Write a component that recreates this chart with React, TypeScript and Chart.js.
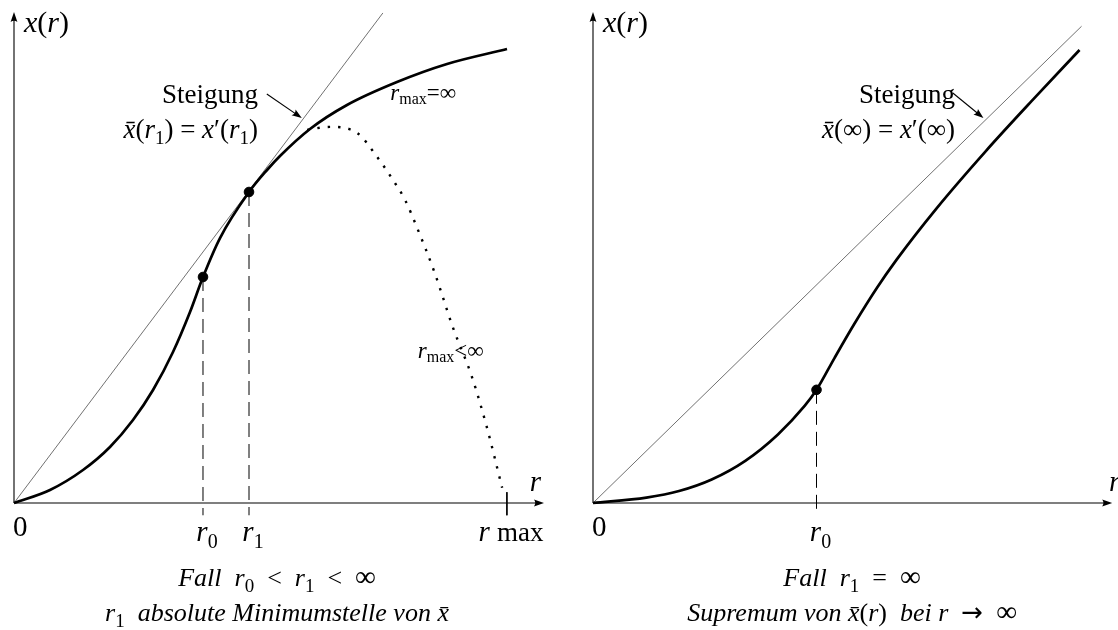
import React, { useEffect, useRef } from "react";
import { Chart, registerables } from "chart.js";

Chart.register(...registerables);

// ---------- Left panel: Fall r0 < r1 < ∞ ----------
const leftCurveR = [0, 0.679, 1.302, 1.811, 2.245, 2.623, 3.0, 3.321, 3.566, 3.887, 4.434, 4.774, 5.019, 5.585, 6.283, 7.226, 8.17, 9.302];
const leftCurveX = [0, 0.265, 0.672, 1.141, 1.69, 2.301, 3.075, 3.89, 4.603, 5.397, 6.334, 6.782, 7.067, 7.617, 8.106, 8.574, 8.941, 9.246];
const leftDottedR = [5.53, 5.96, 6.47, 6.85, 7.15, 7.38, 7.6, 7.94, 8.28, 8.64, 8.92, 9.21];
const leftDottedX = [7.6, 7.66, 7.54, 7.05, 6.58, 6.17, 5.62, 4.68, 3.58, 2.57, 1.55, 0.31];
const leftTangentR = [0, 6.96];
const leftTangentX = [0, 9.98];
const leftMarkedR = [3.566, 4.434]; // r0, r1
const leftMarkedX = [4.603, 6.334];
const leftRmax = 9.3;

// ---------- Right panel: Fall r1 = ∞ ----------
const rightCurveR = [0, 1.029, 1.657, 2.286, 2.933, 3.562, 4.076, 4.305, 4.648, 5.029, 5.467, 5.848, 6.61, 7.562, 8.514, 9.371];
const rightCurveX = [0, 0.11, 0.244, 0.479, 0.859, 1.397, 1.976, 2.305, 2.947, 3.64, 4.379, 4.957, 5.992, 7.163, 8.261, 9.226];
const rightTangentR = [0, 9.41];
const rightTangentX = [0, 9.71];
const rightMarkedR = [4.305]; // r0
const rightMarkedX = [2.305];

// axis ranges
const AXIS_MIN = 0;
const AXIS_MAX = 10;

const SERIF = '"Liberation Serif", "DejaVu Serif", serif';
const I = (s: number) => `italic ${s}px ${SERIF}`;
const R = (s: number) => `${s}px ${SERIF}`;
const SYM = (s: number) => `${s}px "DejaVu Sans", ${SERIF}`;

type Run = { t: string; f: string; dy?: number };

function drawRuns(ctx: CanvasRenderingContext2D, runs: Run[], x: number, y: number, align: "left" | "center" | "right") {
  let w = 0;
  for (const r of runs) {
    ctx.font = r.f;
    w += ctx.measureText(r.t).width;
  }
  let cx = align === "left" ? x : align === "center" ? x - w / 2 : x - w;
  ctx.textBaseline = "alphabetic";
  ctx.textAlign = "left";
  for (const r of runs) {
    ctx.font = r.f;
    ctx.fillText(r.t, cx, y + (r.dy || 0));
    cx += ctx.measureText(r.t).width;
  }
}

function arrowHead(ctx: CanvasRenderingContext2D, tx: number, ty: number, ang: number, len = 10, half = 3.4) {
  ctx.save();
  ctx.translate(tx, ty);
  ctx.rotate(ang);
  ctx.beginPath();
  ctx.moveTo(0, 0);
  ctx.lineTo(-len, -half);
  ctx.quadraticCurveTo(-len * 0.75, 0, -len, half);
  ctx.closePath();
  ctx.fill();
  ctx.restore();
}

const sub = (t: string, s = 19, dy = 6): Run => ({ t, f: R(s), dy });
const xbar = (s: number): Run => ({ t: "x\u0304", f: I(s) });

type PanelCfg = {
  padding: { left: number; right: number; top: number; bottom: number };
  datasets: any[];
  tickLabels: { r: number; runs: Run[] }[];
  rLabelDX: number;
  steigungRight: number;
  formula: Run[];
  pointer: { from: [number, number]; to: [number, number] };
  titleCenter: number;
  title1: Run[];
  title2: Run[];
  extra?: (ctx: CanvasRenderingContext2D, px: (v: number) => number, py: (v: number) => number) => void;
};

const pts = (rs: number[], xs: number[]) => rs.map((r, i) => ({ x: r, y: xs[i] }));

function baseDatasets(curveR: number[], curveX: number[], tanR: number[], tanX: number[], markR: number[], markX: number[]) {
  return [
    {
      data: pts(markR, markX),
      showLine: false,
      pointRadius: 4.8,
      pointBackgroundColor: "#000",
      pointBorderColor: "#000",
      pointBorderWidth: 1,
      clip: false,
    },
    {
      data: pts(curveR, curveX),
      showLine: true,
      borderColor: "#000",
      borderWidth: 2.7,
      pointRadius: 0,
      cubicInterpolationMode: "monotone",
      clip: false,
    },
    {
      data: pts(tanR, tanX),
      showLine: true,
      borderColor: "#333",
      borderWidth: 0.7,
      pointRadius: 0,
      clip: false,
    },
    ...markR.map((r, i) => ({
      data: [
        { x: r, y: markX[i] },
        { x: r, y: -0.25 },
      ],
      showLine: true,
      borderColor: "#000",
      borderWidth: 1,
      borderDash: [14, 7],
      pointRadius: 0,
      clip: false,
    })),
  ];
}

const T = 26; // caption font size
const F = 27; // annotation font size

const leftCfg: PanelCfg = {
  padding: { left: 14, right: 15, top: 12, bottom: 127 },
  datasets: [
    ...baseDatasets(leftCurveR, leftCurveX, leftTangentR, leftTangentX, leftMarkedR, leftMarkedX),
    {
      data: pts(leftDottedR, leftDottedX),
      showLine: true,
      borderColor: "#000",
      borderWidth: 2.4,
      borderDash: [2.4, 8],
      pointRadius: 0,
      cubicInterpolationMode: "monotone",
      clip: false,
    },
    {
      data: [
        { x: leftRmax, y: 0.22 },
        { x: leftRmax, y: -0.25 },
      ],
      showLine: true,
      borderColor: "#000",
      borderWidth: 1,
      pointRadius: 0,
      clip: false,
    },
  ],
  tickLabels: [
    { r: leftMarkedR[0], runs: [{ t: "r", f: I(29) }, sub("0", 20, 7)] },
    { r: leftMarkedR[1], runs: [{ t: "r", f: I(29) }, sub("1", 20, 7)] },
    { r: leftRmax, runs: [{ t: "r ", f: I(29) }, { t: "max", f: R(27) }] },
  ],
  rLabelDX: -3,
  steigungRight: 258,
  formula: [
    xbar(F),
    { t: "(", f: R(F) },
    { t: "r", f: I(F) },
    sub("1"),
    { t: ") = ", f: R(F) },
    { t: "x", f: I(F) },
    { t: "\u2032(", f: R(F) },
    { t: "r", f: I(F) },
    sub("1"),
    { t: ")", f: R(F) },
  ],
  pointer: { from: [4.77, 8.33], to: [5.43, 7.84] },
  titleCenter: 277,
  title1: [
    { t: "Fall  ", f: I(T) },
    { t: "r", f: I(T) },
    sub("0"),
    { t: "\u2002<\u2002", f: R(T) },
    { t: "r", f: I(T) },
    sub("1"),
    { t: "\u2002<\u2002", f: R(T) },
    { t: "\u221E", f: R(29) },
  ],
  title2: [
    { t: "r", f: I(T) },
    sub("1"),
    { t: "  absolute Minimumstelle von ", f: I(T) },
    xbar(T),
  ],
  extra: (ctx, px, py) => {
    drawRuns(ctx, [{ t: "r", f: I(23) }, { t: "max", f: R(16), dy: 4 }, { t: "=\u221E", f: R(23) }], px(7.1), py(8.2), "left");
    drawRuns(ctx, [{ t: "r", f: I(23) }, { t: "max", f: R(16), dy: 4 }, { t: "<\u221E", f: R(23) }], px(7.62), py(2.95), "left");
  },
};

const rightCfg: PanelCfg = {
  padding: { left: 34, right: 0, top: 12, bottom: 127 },
  datasets: baseDatasets(rightCurveR, rightCurveX, rightTangentR, rightTangentX, rightMarkedR, rightMarkedX),
  tickLabels: [{ r: rightMarkedR[0], runs: [{ t: "r", f: I(29) }, sub("0", 20, 7)] }],
  rLabelDX: 8,
  steigungRight: 396,
  formula: [
    xbar(F),
    { t: "(\u221E) = ", f: R(F) },
    { t: "x", f: I(F) },
    { t: "\u2032(\u221E)", f: R(F) },
  ],
  pointer: { from: [6.93, 8.35], to: [7.52, 7.84] },
  titleCenter: 293,
  title1: [
    { t: "Fall  ", f: I(T) },
    { t: "r", f: I(T) },
    sub("1"),
    { t: "\u2002=\u2002", f: R(T) },
    { t: "\u221E", f: R(29) },
  ],
  title2: [
    { t: "Supremum von ", f: I(T) },
    xbar(T),
    { t: "(", f: R(T) },
    { t: "r", f: I(T) },
    { t: ")  ", f: R(T) },
    { t: "bei ", f: I(T) },
    { t: "r", f: I(T) },
    { t: "\u2002\u2192\u2002", f: SYM(T) },
    { t: "\u221E", f: R(29) },
  ],
};

function makeConfig(cfg: PanelCfg): any {
  const decor = {
    id: "decor",
    beforeDatasetsDraw(chart: any) {
      const { ctx, chartArea, scales } = chart;
      const ox = scales.x.getPixelForValue(0);
      const oy = scales.y.getPixelForValue(0);
      ctx.save();
      ctx.strokeStyle = "#000";
      ctx.fillStyle = "#000";
      ctx.lineWidth = 1.1;
      ctx.beginPath();
      ctx.moveTo(ox, oy);
      ctx.lineTo(chartArea.right - 5, oy);
      ctx.stroke();
      ctx.beginPath();
      ctx.moveTo(ox, oy);
      ctx.lineTo(ox, chartArea.top + 5);
      ctx.stroke();
      arrowHead(ctx, chartArea.right, oy, 0);
      arrowHead(ctx, ox, chartArea.top, -Math.PI / 2);
      ctx.restore();
    },
    afterDatasetsDraw(chart: any) {
      const { ctx, chartArea, scales } = chart;
      const px = (v: number) => scales.x.getPixelForValue(v);
      const py = (v: number) => scales.y.getPixelForValue(v);
      const ox = px(0);
      const oy = py(0);
      ctx.save();
      ctx.fillStyle = "#000";
      ctx.strokeStyle = "#000";
      // axis names
      drawRuns(ctx, [{ t: "x", f: I(30) }, { t: "(", f: R(30) }, { t: "r", f: I(30) }, { t: ")", f: R(30) }], ox + 10, chartArea.top + 20, "left");
      drawRuns(ctx, [{ t: "r", f: I(29) }], chartArea.right + cfg.rLabelDX, oy - 12, "right");
      // tick labels
      drawRuns(ctx, [{ t: "0", f: R(29) }], ox - 1, oy + 33, "left");
      for (const tl of cfg.tickLabels) drawRuns(ctx, tl.runs, px(tl.r) + 4, oy + 38, "center");
      // slope annotation
      drawRuns(ctx, [{ t: "Steigung", f: R(F) }], cfg.steigungRight, 103, "right");
      drawRuns(ctx, cfg.formula, cfg.steigungRight, 138, "right");
      const [fx, fy] = cfg.pointer.from;
      const [tx, ty] = cfg.pointer.to;
      const x0 = px(fx), y0 = py(fy), x1 = px(tx), y1 = py(ty);
      const ang = Math.atan2(y1 - y0, x1 - x0);
      ctx.lineWidth = 1.1;
      ctx.beginPath();
      ctx.moveTo(x0, y0);
      ctx.lineTo(x1 - 6 * Math.cos(ang), y1 - 6 * Math.sin(ang));
      ctx.stroke();
      arrowHead(ctx, x1, y1, ang, 10, 3.6);
      if (cfg.extra) cfg.extra(ctx, px, py);
      // captions
      drawRuns(ctx, cfg.title1, cfg.titleCenter, 586, "center");
      drawRuns(ctx, cfg.title2, cfg.titleCenter, 621, "center");
      ctx.restore();
    },
  };
  return {
    type: "scatter",
    data: { datasets: cfg.datasets },
    options: {
      responsive: false,
      animation: false,
      events: [],
      layout: { padding: cfg.padding },
      plugins: { legend: { display: false }, tooltip: { enabled: false } },
      scales: {
        x: { type: "linear", min: AXIS_MIN, max: AXIS_MAX, display: false },
        y: { type: "linear", min: AXIS_MIN, max: AXIS_MAX, display: false },
      },
    },
    plugins: [decor],
  };
}

function Panel({ cfg, left }: { cfg: PanelCfg; left: number }) {
  const ref = useRef<HTMLCanvasElement>(null);
  useEffect(() => {
    const chart = new Chart(ref.current as HTMLCanvasElement, makeConfig(cfg));
    return () => chart.destroy();
  }, [cfg]);
  return (
    <canvas
      ref={ref}
      width={559}
      height={630}
      style={{ position: "absolute", left, top: 0, width: 559, height: 630 }}
    />
  );
}

export default function App() {
  return (
    <div style={{ position: "absolute", left: 0, top: 0, width: 1118, height: 630, background: "#fff", overflow: "hidden" }}>
      <Panel cfg={leftCfg} left={0} />
      <Panel cfg={rightCfg} left={559} />
    </div>
  );
}
